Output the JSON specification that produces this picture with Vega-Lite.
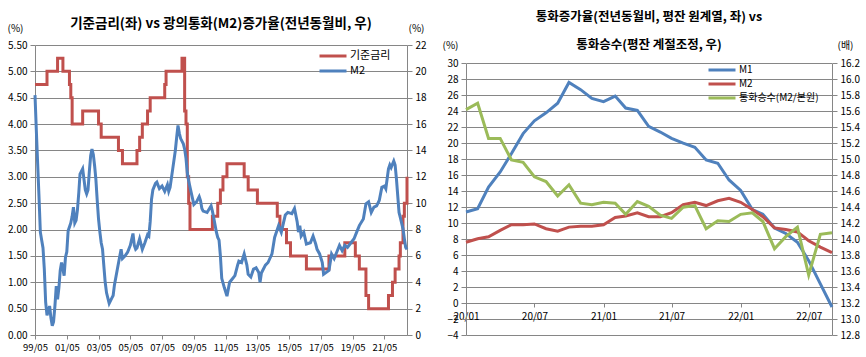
{
  "$schema": "https://vega.github.io/schema/vega-lite/v6.json",
  "background": "white",
  "padding": {"left": 7, "top": 10, "right": 5, "bottom": 5},
  "config": {
    "font": "Noto Sans CJK KR",
    "view": {"stroke": null},
    "axis": {"labelFont": "Noto Sans CJK KR", "labelFontSize": 10, "labelColor": "#000000", "domainColor": "#868686", "tickColor": "#868686", "gridColor": "#868686", "gridOpacity": 1, "titleFont": "Noto Sans CJK KR", "titleFontSize": 10, "titleFontWeight": "normal", "titleColor": "#000000", "labelOverlap": false},
    "legend": {"labelFont": "Noto Sans CJK KR", "labelFontSize": 11, "labelColor": "#000000"},
    "title": {"font": "Noto Sans CJK KR", "color": "#000000"}
  },
  "spacing": 59,
  "bounds": "flush",
  "resolve": {"scale": {"color": "independent"}, "legend": {"color": "independent"}},
  "datasets": {
    "rate": [
      {"d": "1999-05-01", "v": 4.75}, {"d": "2000-02-01", "v": 5.0}, {"d": "2000-10-01", "v": 5.25}, {"d": "2001-02-01", "v": 5.0},
      {"d": "2001-07-01", "v": 4.75}, {"d": "2001-08-01", "v": 4.5}, {"d": "2001-09-01", "v": 4.0}, {"d": "2002-05-01", "v": 4.25},
      {"d": "2003-05-01", "v": 4.0}, {"d": "2003-07-01", "v": 3.75}, {"d": "2004-08-01", "v": 3.5}, {"d": "2004-11-01", "v": 3.25},
      {"d": "2005-10-01", "v": 3.5}, {"d": "2005-12-01", "v": 3.75}, {"d": "2006-02-01", "v": 4.0}, {"d": "2006-06-01", "v": 4.25},
      {"d": "2006-08-01", "v": 4.5}, {"d": "2007-07-01", "v": 4.75}, {"d": "2007-08-01", "v": 5.0}, {"d": "2008-08-01", "v": 5.25},
      {"d": "2008-10-01", "v": 4.25}, {"d": "2008-11-01", "v": 4.0}, {"d": "2008-12-01", "v": 3.0}, {"d": "2009-01-01", "v": 2.5},
      {"d": "2009-02-01", "v": 2.0}, {"d": "2010-07-01", "v": 2.25}, {"d": "2010-11-01", "v": 2.5}, {"d": "2011-01-01", "v": 2.75},
      {"d": "2011-03-01", "v": 3.0}, {"d": "2011-06-01", "v": 3.25}, {"d": "2012-07-01", "v": 3.0}, {"d": "2012-10-01", "v": 2.75},
      {"d": "2013-05-01", "v": 2.5}, {"d": "2014-08-01", "v": 2.25}, {"d": "2014-10-01", "v": 2.0}, {"d": "2015-03-01", "v": 1.75},
      {"d": "2015-06-01", "v": 1.5}, {"d": "2016-06-01", "v": 1.25}, {"d": "2017-11-01", "v": 1.5}, {"d": "2018-11-01", "v": 1.75},
      {"d": "2019-07-01", "v": 1.5}, {"d": "2019-10-01", "v": 1.25}, {"d": "2020-03-01", "v": 0.75}, {"d": "2020-05-01", "v": 0.5},
      {"d": "2021-08-01", "v": 0.75}, {"d": "2021-11-01", "v": 1.0}, {"d": "2022-01-01", "v": 1.25}, {"d": "2022-04-01", "v": 1.5},
      {"d": "2022-05-01", "v": 1.75}, {"d": "2022-07-01", "v": 2.25}, {"d": "2022-08-01", "v": 2.5}, {"d": "2022-10-01", "v": 3.0}
    ],
    "m2": [
      {"d": "1999-05-01", "v": 18.2}, {"d": "1999-06-01", "v": 15.5}, {"d": "1999-07-01", "v": 13.0}, {"d": "1999-08-01", "v": 10.5},
      {"d": "1999-09-01", "v": 7.8}, {"d": "1999-10-01", "v": 7.2}, {"d": "1999-11-01", "v": 6.6}, {"d": "1999-12-01", "v": 5.0},
      {"d": "2000-01-01", "v": 2.5}, {"d": "2000-02-01", "v": 1.5}, {"d": "2000-03-01", "v": 1.8}, {"d": "2000-04-01", "v": 2.2},
      {"d": "2000-05-01", "v": 1.3}, {"d": "2000-06-01", "v": 0.7}, {"d": "2000-07-01", "v": 1.0}, {"d": "2000-08-01", "v": 2.2},
      {"d": "2000-09-01", "v": 3.7}, {"d": "2000-10-01", "v": 2.7}, {"d": "2000-11-01", "v": 3.6}, {"d": "2000-12-01", "v": 4.9},
      {"d": "2001-01-01", "v": 5.5}, {"d": "2001-02-01", "v": 5.0}, {"d": "2001-03-01", "v": 4.5}, {"d": "2001-04-01", "v": 5.9},
      {"d": "2001-05-01", "v": 6.3}, {"d": "2001-06-01", "v": 7.9}, {"d": "2001-07-01", "v": 8.2}, {"d": "2001-08-01", "v": 8.5},
      {"d": "2001-09-01", "v": 9.0}, {"d": "2001-10-01", "v": 9.7}, {"d": "2001-11-01", "v": 8.5}, {"d": "2001-12-01", "v": 8.7},
      {"d": "2002-01-01", "v": 9.5}, {"d": "2002-02-01", "v": 10.8}, {"d": "2002-03-01", "v": 12.2}, {"d": "2002-05-01", "v": 12.6},
      {"d": "2002-06-01", "v": 11.8}, {"d": "2002-07-01", "v": 11.0}, {"d": "2002-08-01", "v": 10.7}, {"d": "2002-09-01", "v": 11.0},
      {"d": "2002-10-01", "v": 12.4}, {"d": "2002-11-01", "v": 13.6}, {"d": "2002-12-01", "v": 14.1}, {"d": "2003-01-01", "v": 13.7},
      {"d": "2003-02-01", "v": 12.8}, {"d": "2003-03-01", "v": 11.8}, {"d": "2003-04-01", "v": 10.2}, {"d": "2003-05-01", "v": 8.8},
      {"d": "2003-06-01", "v": 7.8}, {"d": "2003-07-01", "v": 7.0}, {"d": "2003-08-01", "v": 6.5}, {"d": "2003-09-01", "v": 5.2},
      {"d": "2003-10-01", "v": 4.0}, {"d": "2003-11-01", "v": 3.2}, {"d": "2004-01-01", "v": 2.4}, {"d": "2004-03-01", "v": 2.8},
      {"d": "2004-04-01", "v": 3.0}, {"d": "2004-05-01", "v": 3.8}, {"d": "2004-07-01", "v": 4.9}, {"d": "2004-09-01", "v": 6.0},
      {"d": "2004-10-01", "v": 6.5}, {"d": "2004-11-01", "v": 5.8}, {"d": "2005-01-01", "v": 6.0}, {"d": "2005-03-01", "v": 6.3},
      {"d": "2005-05-01", "v": 6.8}, {"d": "2005-07-01", "v": 7.7}, {"d": "2005-08-01", "v": 6.8}, {"d": "2005-09-01", "v": 6.5},
      {"d": "2005-10-01", "v": 6.6}, {"d": "2005-12-01", "v": 7.3}, {"d": "2006-02-01", "v": 6.5}, {"d": "2006-04-01", "v": 7.0},
      {"d": "2006-06-01", "v": 7.6}, {"d": "2006-07-01", "v": 7.5}, {"d": "2006-08-01", "v": 8.6}, {"d": "2006-09-01", "v": 10.3},
      {"d": "2006-10-01", "v": 11.0}, {"d": "2006-12-01", "v": 11.5}, {"d": "2007-01-01", "v": 11.6}, {"d": "2007-03-01", "v": 11.1},
      {"d": "2007-05-01", "v": 11.3}, {"d": "2007-07-01", "v": 10.9}, {"d": "2007-09-01", "v": 11.4}, {"d": "2007-10-01", "v": 10.9},
      {"d": "2007-11-01", "v": 11.2}, {"d": "2008-01-01", "v": 12.6}, {"d": "2008-03-01", "v": 14.0}, {"d": "2008-04-01", "v": 15.0},
      {"d": "2008-05-01", "v": 15.9}, {"d": "2008-06-01", "v": 15.3}, {"d": "2008-07-01", "v": 14.9}, {"d": "2008-09-01", "v": 14.5},
      {"d": "2008-10-01", "v": 14.1}, {"d": "2008-11-01", "v": 13.4}, {"d": "2008-12-01", "v": 12.3}, {"d": "2009-01-01", "v": 11.7},
      {"d": "2009-03-01", "v": 10.8}, {"d": "2009-05-01", "v": 9.9}, {"d": "2009-07-01", "v": 10.1}, {"d": "2009-09-01", "v": 10.5},
      {"d": "2009-10-01", "v": 10.2}, {"d": "2009-11-01", "v": 9.6}, {"d": "2009-12-01", "v": 9.4}, {"d": "2010-03-01", "v": 9.3},
      {"d": "2010-06-01", "v": 9.8}, {"d": "2010-07-01", "v": 9.4}, {"d": "2010-08-01", "v": 8.9}, {"d": "2010-10-01", "v": 7.8},
      {"d": "2010-11-01", "v": 7.4}, {"d": "2010-12-01", "v": 7.2}, {"d": "2011-01-01", "v": 6.0}, {"d": "2011-02-01", "v": 4.3},
      {"d": "2011-04-01", "v": 3.6}, {"d": "2011-06-01", "v": 2.95}, {"d": "2011-08-01", "v": 4.0}, {"d": "2011-10-01", "v": 4.25},
      {"d": "2011-12-01", "v": 4.5}, {"d": "2012-02-01", "v": 5.3}, {"d": "2012-03-01", "v": 5.6}, {"d": "2012-05-01", "v": 5.5},
      {"d": "2012-07-01", "v": 6.15}, {"d": "2012-09-01", "v": 5.3}, {"d": "2012-10-01", "v": 4.6}, {"d": "2012-12-01", "v": 4.4},
      {"d": "2013-02-01", "v": 5.0}, {"d": "2013-04-01", "v": 5.1}, {"d": "2013-06-01", "v": 4.75}, {"d": "2013-07-01", "v": 4.0},
      {"d": "2013-08-01", "v": 4.7}, {"d": "2013-11-01", "v": 5.3}, {"d": "2014-01-01", "v": 5.5}, {"d": "2014-04-01", "v": 6.15},
      {"d": "2014-06-01", "v": 7.4}, {"d": "2014-09-01", "v": 8.3}, {"d": "2014-11-01", "v": 7.8}, {"d": "2015-02-01", "v": 9.1},
      {"d": "2015-04-01", "v": 9.3}, {"d": "2015-07-01", "v": 9.2}, {"d": "2015-09-01", "v": 9.6}, {"d": "2015-11-01", "v": 8.6},
      {"d": "2015-12-01", "v": 7.8}, {"d": "2016-01-01", "v": 8.3}, {"d": "2016-02-01", "v": 7.5}, {"d": "2016-04-01", "v": 7.8},
      {"d": "2016-06-01", "v": 6.9}, {"d": "2016-09-01", "v": 7.0}, {"d": "2016-11-01", "v": 7.5}, {"d": "2017-01-01", "v": 6.9},
      {"d": "2017-02-01", "v": 6.5}, {"d": "2017-04-01", "v": 6.15}, {"d": "2017-06-01", "v": 5.5}, {"d": "2017-07-01", "v": 4.6},
      {"d": "2017-09-01", "v": 4.75}, {"d": "2017-11-01", "v": 4.9}, {"d": "2018-01-01", "v": 6.15}, {"d": "2018-03-01", "v": 5.8},
      {"d": "2018-05-01", "v": 6.3}, {"d": "2018-07-01", "v": 6.8}, {"d": "2018-09-01", "v": 6.4}, {"d": "2018-11-01", "v": 6.8},
      {"d": "2019-01-01", "v": 6.65}, {"d": "2019-03-01", "v": 6.9}, {"d": "2019-06-01", "v": 7.3}, {"d": "2019-08-01", "v": 7.8},
      {"d": "2019-10-01", "v": 8.3}, {"d": "2020-01-01", "v": 8.8}, {"d": "2020-03-01", "v": 9.95}, {"d": "2020-05-01", "v": 10.1},
      {"d": "2020-07-01", "v": 9.3}, {"d": "2020-09-01", "v": 9.7}, {"d": "2020-11-01", "v": 9.8}, {"d": "2021-01-01", "v": 10.2},
      {"d": "2021-03-01", "v": 11.2}, {"d": "2021-05-01", "v": 11.3}, {"d": "2021-06-01", "v": 11.1}, {"d": "2021-08-01", "v": 12.6},
      {"d": "2021-09-01", "v": 12.9}, {"d": "2021-10-01", "v": 12.7}, {"d": "2021-12-01", "v": 13.2}, {"d": "2022-01-01", "v": 12.9},
      {"d": "2022-02-01", "v": 11.8}, {"d": "2022-04-01", "v": 9.3}, {"d": "2022-05-01", "v": 8.9}, {"d": "2022-07-01", "v": 8.05},
      {"d": "2022-08-01", "v": 7.3}, {"d": "2022-09-01", "v": 6.65}, {"d": "2022-10-01", "v": 6.5}
    ],
    "money": [
      {"d": "2020-01-01", "s": "M1", "v": 11.4}, {"d": "2020-02-01", "s": "M1", "v": 11.8}, {"d": "2020-03-01", "s": "M1", "v": 14.5},
      {"d": "2020-04-01", "s": "M1", "v": 16.4}, {"d": "2020-05-01", "s": "M1", "v": 18.7}, {"d": "2020-06-01", "s": "M1", "v": 21.2},
      {"d": "2020-07-01", "s": "M1", "v": 22.8}, {"d": "2020-08-01", "s": "M1", "v": 23.8}, {"d": "2020-09-01", "s": "M1", "v": 25.0},
      {"d": "2020-10-01", "s": "M1", "v": 27.6}, {"d": "2020-11-01", "s": "M1", "v": 26.7}, {"d": "2020-12-01", "s": "M1", "v": 25.6},
      {"d": "2021-01-01", "s": "M1", "v": 25.2}, {"d": "2021-02-01", "s": "M1", "v": 25.9}, {"d": "2021-03-01", "s": "M1", "v": 24.4},
      {"d": "2021-04-01", "s": "M1", "v": 24.1}, {"d": "2021-05-01", "s": "M1", "v": 22.1}, {"d": "2021-06-01", "s": "M1", "v": 21.4},
      {"d": "2021-07-01", "s": "M1", "v": 20.6}, {"d": "2021-08-01", "s": "M1", "v": 20.0}, {"d": "2021-09-01", "s": "M1", "v": 19.5},
      {"d": "2021-10-01", "s": "M1", "v": 17.9}, {"d": "2021-11-01", "s": "M1", "v": 17.5}, {"d": "2021-12-01", "s": "M1", "v": 15.4},
      {"d": "2022-01-01", "s": "M1", "v": 14.1}, {"d": "2022-02-01", "s": "M1", "v": 11.7}, {"d": "2022-03-01", "s": "M1", "v": 11.1},
      {"d": "2022-04-01", "s": "M1", "v": 9.4}, {"d": "2022-05-01", "s": "M1", "v": 8.7}, {"d": "2022-06-01", "s": "M1", "v": 7.6},
      {"d": "2022-07-01", "s": "M1", "v": 5.3}, {"d": "2022-08-01", "s": "M1", "v": 2.4}, {"d": "2022-09-01", "s": "M1", "v": -0.5},
      {"d": "2020-01-01", "s": "M2", "v": 7.6}, {"d": "2020-02-01", "s": "M2", "v": 8.05}, {"d": "2020-03-01", "s": "M2", "v": 8.3},
      {"d": "2020-04-01", "s": "M2", "v": 9.1}, {"d": "2020-05-01", "s": "M2", "v": 9.8}, {"d": "2020-06-01", "s": "M2", "v": 9.8},
      {"d": "2020-07-01", "s": "M2", "v": 9.9}, {"d": "2020-08-01", "s": "M2", "v": 9.3}, {"d": "2020-09-01", "s": "M2", "v": 9.0},
      {"d": "2020-10-01", "s": "M2", "v": 9.5}, {"d": "2020-11-01", "s": "M2", "v": 9.6}, {"d": "2020-12-01", "s": "M2", "v": 9.6},
      {"d": "2021-01-01", "s": "M2", "v": 9.8}, {"d": "2021-02-01", "s": "M2", "v": 10.7}, {"d": "2021-03-01", "s": "M2", "v": 10.9},
      {"d": "2021-04-01", "s": "M2", "v": 11.3}, {"d": "2021-05-01", "s": "M2", "v": 10.8}, {"d": "2021-06-01", "s": "M2", "v": 10.8},
      {"d": "2021-07-01", "s": "M2", "v": 11.3}, {"d": "2021-08-01", "s": "M2", "v": 12.3}, {"d": "2021-09-01", "s": "M2", "v": 12.6},
      {"d": "2021-10-01", "s": "M2", "v": 12.2}, {"d": "2021-11-01", "s": "M2", "v": 12.8}, {"d": "2021-12-01", "s": "M2", "v": 13.1},
      {"d": "2022-01-01", "s": "M2", "v": 12.6}, {"d": "2022-02-01", "s": "M2", "v": 11.7}, {"d": "2022-03-01", "s": "M2", "v": 10.8},
      {"d": "2022-04-01", "s": "M2", "v": 9.4}, {"d": "2022-05-01", "s": "M2", "v": 9.2}, {"d": "2022-06-01", "s": "M2", "v": 8.9},
      {"d": "2022-07-01", "s": "M2", "v": 7.8}, {"d": "2022-08-01", "s": "M2", "v": 7.0}, {"d": "2022-09-01", "s": "M2", "v": 6.3}
    ],
    "mult": [
      {"d": "2020-01-01", "v": 15.62}, {"d": "2020-02-01", "v": 15.70}, {"d": "2020-03-01", "v": 15.26}, {"d": "2020-04-01", "v": 15.26},
      {"d": "2020-05-01", "v": 14.99}, {"d": "2020-06-01", "v": 14.96}, {"d": "2020-07-01", "v": 14.78}, {"d": "2020-08-01", "v": 14.72},
      {"d": "2020-09-01", "v": 14.54}, {"d": "2020-10-01", "v": 14.68}, {"d": "2020-11-01", "v": 14.45}, {"d": "2020-12-01", "v": 14.43},
      {"d": "2021-01-01", "v": 14.46}, {"d": "2021-02-01", "v": 14.45}, {"d": "2021-03-01", "v": 14.31}, {"d": "2021-04-01", "v": 14.47},
      {"d": "2021-05-01", "v": 14.41}, {"d": "2021-06-01", "v": 14.30}, {"d": "2021-07-01", "v": 14.26}, {"d": "2021-08-01", "v": 14.40},
      {"d": "2021-09-01", "v": 14.42}, {"d": "2021-10-01", "v": 14.13}, {"d": "2021-11-01", "v": 14.23}, {"d": "2021-12-01", "v": 14.22},
      {"d": "2022-01-01", "v": 14.31}, {"d": "2022-02-01", "v": 14.33}, {"d": "2022-03-01", "v": 14.22}, {"d": "2022-04-01", "v": 13.88},
      {"d": "2022-05-01", "v": 14.03}, {"d": "2022-06-01", "v": 14.15}, {"d": "2022-07-01", "v": 13.55}, {"d": "2022-08-01", "v": 14.06},
      {"d": "2022-09-01", "v": 14.08}
    ]
  },
  "hconcat": [
    {
      "width": 372,
      "height": 290,
      "title": {"text": "기준금리(좌) vs 광의통화(M2)증가율(전년동월비, 우)", "fontSize": 13.5, "fontWeight": "bold", "anchor": "middle", "frame": "group", "baseline": "middle", "offset": -14},
      "encoding": {
        "x": {"field": "d", "type": "temporal",
          "scale": {"type": "utc", "domain": [{"year": 1999, "month": 5, "date": 1, "utc": true}, {"year": 2022, "month": 10, "date": 1, "utc": true}]},
          "axis": {"title": null, "format": "%y/%m", "grid": false, "tickSize": 4, "labelPadding": 3, "labelOverlap": false, "labelFlush": false, "labelFontSize": 9.5, "labelBound": false, "labelSeparation": 0,
            "values": [{"year": 1999, "month": 5, "date": 1, "utc": true}, {"year": 2001, "month": 5, "date": 1, "utc": true}, {"year": 2003, "month": 5, "date": 1, "utc": true}, {"year": 2005, "month": 5, "date": 1, "utc": true}, {"year": 2007, "month": 5, "date": 1, "utc": true}, {"year": 2009, "month": 5, "date": 1, "utc": true}, {"year": 2011, "month": 5, "date": 1, "utc": true}, {"year": 2013, "month": 5, "date": 1, "utc": true}, {"year": 2015, "month": 5, "date": 1, "utc": true}, {"year": 2017, "month": 5, "date": 1, "utc": true}, {"year": 2019, "month": 5, "date": 1, "utc": true}, {"year": 2021, "month": 5, "date": 1, "utc": true}]}}
      },
      "layer": [
        {
          "data": {"name": "rate"},
          "mark": {"type": "line", "interpolate": "step-after", "strokeWidth": 3},
          "encoding": {
            "y": {"field": "v", "type": "quantitative",
              "scale": {"domain": [0, 5.5], "nice": false, "zero": false},
              "axis": {"orient": "left", "values": [0, 0.5, 1, 1.5, 2, 2.5, 3, 3.5, 4, 4.5, 5, 5.5], "format": ".2f", "grid": true, "tickSize": 5, "labelPadding": 3,
                "title": "(%)", "titleAngle": 0, "titleX": -20, "titleY": -17, "titleAlign": "center", "titleBaseline": "middle"}},
            "color": {"datum": "기준금리", "type": "nominal",
              "scale": {"domain": ["기준금리", "M2"], "range": ["#C0504D", "#4F81BD"]},
              "legend": {"orient": "none", "legendX": 292, "legendY": 5, "title": null, "symbolType": "M-3,0H3", "symbolSize": 81, "symbolStrokeWidth": 3, "labelFontSize": 11, "rowPadding": 3, "labelOffset": 11, "padding": 0}}
          }
        },
        {
          "data": {"name": "m2"},
          "mark": {"type": "line", "strokeWidth": 3},
          "encoding": {
            "y": {"field": "v", "type": "quantitative",
              "scale": {"domain": [0, 22], "nice": false, "zero": false},
              "axis": {"orient": "right", "values": [0, 2, 4, 6, 8, 10, 12, 14, 16, 18, 20, 22], "grid": false, "tickSize": 5, "labelPadding": 3,
                "title": "(%)", "titleAngle": 0, "titleX": 9, "titleY": -17, "titleAlign": "center", "titleBaseline": "middle"}},
            "color": {"datum": "M2", "type": "nominal"}
          }
        }
      ],
      "resolve": {"scale": {"y": "independent"}}
    },
    {
      "width": 366,
      "height": 290,
      "title": {"text": ["통화증가율(전년동월비, 평잔 원계열, 좌) vs", "통화승수(평잔 계절조정, 우)"], "fontSize": 12.5, "fontWeight": "bold", "lineHeight": 28, "anchor": "middle", "frame": "group", "baseline": "bottom", "offset": -24},
      "encoding": {
        "x": {"field": "d", "type": "temporal",
          "scale": {"type": "utc", "domain": [{"year": 2020, "month": 1, "date": 1, "utc": true}, {"year": 2022, "month": 9, "date": 1, "utc": true}]},
          "axis": {"title": null, "format": "%y/%m", "grid": false, "offset": -32, "tickSize": 4, "labelPadding": 4, "labelOverlap": false, "labelFlush": false,
            "values": [{"year": 2020, "month": 1, "date": 1, "utc": true}, {"year": 2020, "month": 7, "date": 1, "utc": true}, {"year": 2021, "month": 1, "date": 1, "utc": true}, {"year": 2021, "month": 7, "date": 1, "utc": true}, {"year": 2022, "month": 1, "date": 1, "utc": true}, {"year": 2022, "month": 7, "date": 1, "utc": true}]}}
      },
      "layer": [
        {
          "data": {"name": "money"},
          "mark": {"type": "line", "strokeWidth": 3},
          "encoding": {
            "y": {"field": "v", "type": "quantitative",
              "scale": {"domain": [-4, 30], "nice": false, "zero": false, "range": [290, 18.3]},
              "axis": {"orient": "left", "values": [-4, -2, 0, 2, 4, 6, 8, 10, 12, 14, 16, 18, 20, 22, 24, 26, 28, 30], "grid": true, "tickSize": 5, "labelPadding": 3,
                "title": "(%)", "titleAngle": 0, "titleX": -16, "titleY": 0, "titleAlign": "center", "titleBaseline": "middle"}},
            "color": {"field": "s", "type": "nominal",
              "scale": {"domain": ["M1", "M2", "통화승수(M2/본원)"], "range": ["#4F81BD", "#C0504D", "#9BBB59"]},
              "legend": {"orient": "none", "legendX": 250, "legendY": 19, "title": null, "symbolType": "M-3,0H3", "symbolSize": 81, "symbolStrokeWidth": 3, "labelFontSize": 10, "rowPadding": 2, "labelOffset": 11, "padding": 0}}
          }
        },
        {
          "data": {"name": "mult"},
          "mark": {"type": "line", "strokeWidth": 3},
          "encoding": {
            "y": {"field": "v", "type": "quantitative",
              "scale": {"domain": [12.8, 16.2], "nice": false, "zero": false, "range": [290, 18.3]},
              "axis": {"orient": "right", "values": [12.8, 13, 13.2, 13.4, 13.6, 13.8, 14, 14.2, 14.4, 14.6, 14.8, 15, 15.2, 15.4, 15.6, 15.8, 16, 16.2], "format": ".1f", "grid": false, "tickSize": 5, "labelPadding": 3,
                "title": "(배)", "titleAngle": 0, "titleX": 13, "titleY": 0, "titleAlign": "center", "titleBaseline": "middle"}},
            "color": {"datum": "통화승수(M2/본원)", "type": "nominal"}
          }
        }
      ],
      "resolve": {"scale": {"y": "independent"}}
    }
  ]
}
